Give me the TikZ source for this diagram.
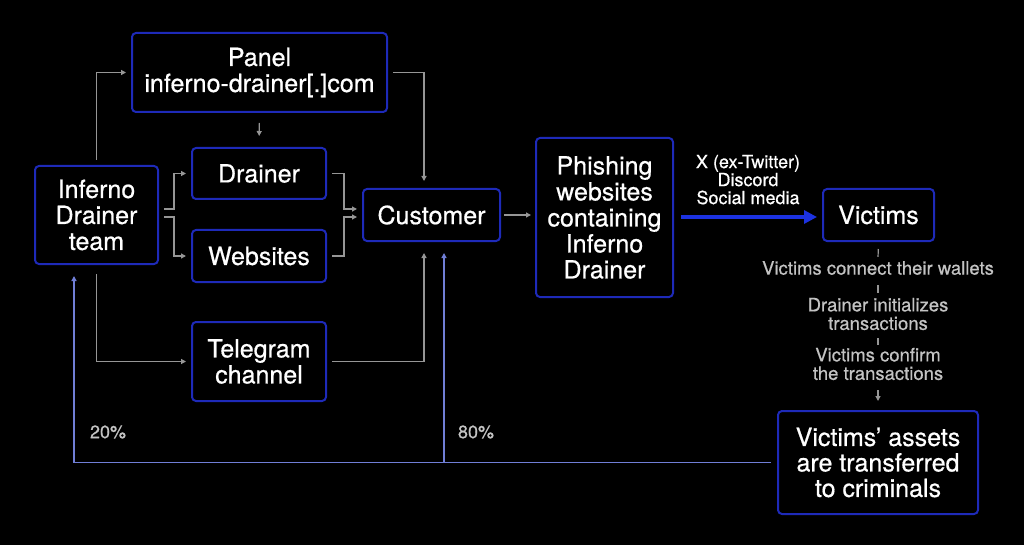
\documentclass[tikz,border=0pt]{standalone}
\usepackage{fontspec}
\setmainfont{TeX Gyre Heros}[FakeBold=0.6]
\usetikzlibrary{arrows.meta}
\definecolor{boxblue}{RGB}{30,42,185}
\definecolor{brightblue}{RGB}{28,50,225}
\definecolor{lineblue}{RGB}{112,126,214}
\definecolor{linegray}{RGB}{150,150,150}
\definecolor{textgray}{RGB}{195,195,195}
\tikzset{
  box/.style={draw=boxblue, line width=2pt, rounded corners=4pt, fill=black,
    text=white, align=center, inner sep=0pt,
    font=\fontsize{25}{26}\selectfont},
  conn/.style={draw=linegray, line width=1.2pt, -{Triangle[length=5pt,width=5pt]},
    shorten <=5pt, shorten >=5pt},
  plain/.style={draw=linegray, line width=1.2pt},
  blueline/.style={draw=lineblue, line width=1.3pt},
  bigarrow/.style={draw=brightblue, line width=3.2pt, -{Triangle[length=13pt,width=13pt]}},
  graytext/.style={text=textgray, align=center, inner sep=0pt,
    font=\fontsize{18.5}{18.5}\selectfont},
  pct/.style={text=textgray, inner sep=0pt, font=\fontsize{18}{18}\selectfont},
}
\begin{document}
\begin{tikzpicture}[x=1pt,y=-1pt]
\fill[black] (0,0) rectangle (1024,545);
\useasboundingbox (0,0) rectangle (1024,545);

\node[box, minimum width=255pt, minimum height=79pt] (panel) at (259.5,72.5) {Panel\\inferno-drainer[.]com};
\node[box, minimum width=134pt, minimum height=51pt] (drainer) at (259,173.5) {Drainer};
\node[box, minimum width=134pt, minimum height=52pt] (websites) at (259,256) {Websites};
\node[box, minimum width=123pt, minimum height=98pt] (team) at (96.5,215) {Inferno\\Drainer\\team};
\node[box, minimum width=137pt, minimum height=52pt] (customer) at (431.5,215) {Customer};
\node[box, minimum width=134pt, minimum height=79pt] (telegram) at (259,361.5) {Telegram\\channel};
\node[box, minimum width=137pt, minimum height=159pt] (phishing) at (604.5,217.5) {Phishing\\websites\\containing\\Inferno\\Drainer};
\node[box, minimum width=111pt, minimum height=52pt] (victims) at (878.5,215) {Victims};
\node[box, minimum width=200pt, minimum height=103pt, font=\fontsize{25}{25.5}\selectfont] (assets) at (878,462.5) {Victims' assets\\are transferred\\to criminals};

% victims chain texts
\node[graytext, minimum height=20pt] (t1) at (878,268) {Victims connect their wallets};
\node[graytext, minimum height=38pt] (t2) at (878,314) {Drainer initializes\\transactions};
\node[graytext, minimum height=38pt] (t3) at (878,364) {Victims confirm\\the transactions};

% gray connectors
\draw[conn] (team.north) |- (panel.west);
\draw[conn, shorten >=7pt] (panel.east) -| ([xshift=-7.5pt]customer.north);
\draw[conn, shorten <=10pt, shorten >=11pt] (panel.south) -- (drainer.north);
\draw[conn] ([yshift=6pt]team.east) -- (174,209) |- (drainer.west);
\draw[conn] ([yshift=-2pt]team.east) -- (174,217) |- (websites.west);
\draw[conn] (drainer.east) -- (344,173.5) |- ([yshift=6pt]customer.west);
\draw[conn] (websites.east) -- (344,256) |- ([yshift=-2pt]customer.west);
\draw[conn, shorten <=9pt] (team.south) |- (telegram.west);
\draw[conn, shorten >=11pt] (telegram.east) -| ([xshift=-7.5pt]customer.south);
\draw[conn, shorten <=3pt, shorten >=4pt] (customer.east) -- (customer.east -| phishing.west);

% main blue arrow
\draw[bigarrow, shorten <=7pt, shorten >=5pt] (phishing.east |- 0,217) -- (victims.west |- 0,217)
  node[midway, above=11pt, text=white, align=center, inner sep=0pt,
       font=\fontsize{18}{18}\selectfont] {X (ex-Twitter)\\Discord\\Social media};

% victims chain
\draw[plain, shorten <=7pt, shorten >=1pt] (victims.south) -- (t1.north);
\draw[plain, shorten <=7pt, shorten >=2pt] (t1.south) -- (t2.north);
\draw[plain, shorten <=5pt, shorten >=0pt] (t2.south) -- (t3.north);
\draw[conn, shorten <=7pt, shorten >=9pt] (t3.south) -- (assets.north);

% payout lines
\coordinate (c20) at ([xshift=-22.5pt]team.south);
\coordinate (c80) at ([xshift=12.5pt]customer.south);
\draw[blueline, -{Triangle[length=5pt,width=5pt]}, shorten <=6pt, shorten >=11pt]
  (assets.west) -| (c20);
\draw[blueline, -{Triangle[length=5pt,width=5pt]}, shorten >=11pt]
  (c80 |- assets.west) -- (c80);

\node[pct] (p20) at (108,432) {20\%};
\node[pct] (p80) at (476,432) {80\%};
\end{tikzpicture}
\end{document}
